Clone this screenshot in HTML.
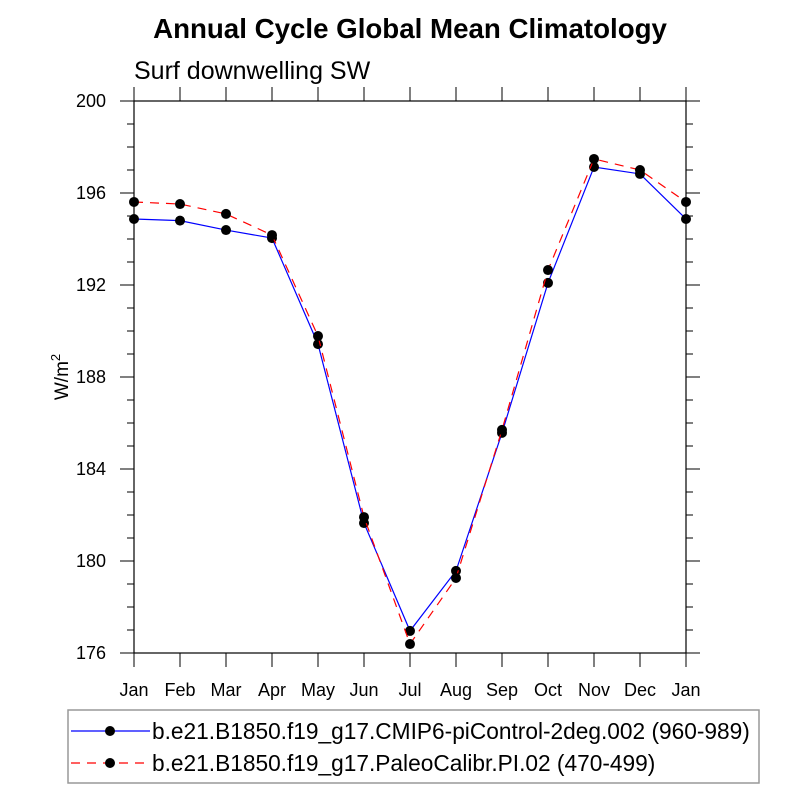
<!DOCTYPE html>
<html><head><meta charset="utf-8"><style>
body{margin:0;background:#fff}
svg{display:block;font-family:"Liberation Sans",Arial,sans-serif}
</style></head><body>
<svg id="chart" width="800" height="800" xmlns="http://www.w3.org/2000/svg">
<rect width="800" height="800" fill="#fff"/>
<text x="410" y="38" text-anchor="middle" font-size="27.7" font-weight="bold">Annual Cycle Global Mean Climatology</text>
<text x="134" y="79" font-size="25">Surf downwelling SW</text>
<g id="axes"></g>
<g id="series"></g>
<text transform="translate(68,377) rotate(-90)" text-anchor="middle" font-size="19">W/m<tspan dy="-8" font-size="13">2</tspan></text>
<g>
<rect x="68" y="710" width="691" height="73" fill="#fff" stroke="#999" stroke-width="1.5"/>
<g>
<line x1="71" y1="731" x2="150" y2="731" stroke="#0000ff" stroke-width="1.2"/>
<circle cx="110" cy="731" r="5" fill="#000"/>
<text x="152" y="739" font-size="22.7">b.e21.B1850.f19_g17.CMIP6-piControl-2deg.002 (960-989)</text>
</g>
<g>
<line x1="71" y1="763" x2="150" y2="763" stroke="#ff0000" stroke-width="1.2" stroke-dasharray="9,7"/>
<circle cx="110" cy="763" r="5" fill="#000"/>
<text x="152" y="771" font-size="22.7">b.e21.B1850.f19_g17.PaleoCalibr.PI.02 (470-499)</text>
</g>
</g>
</svg>
<script>
const months=["Jan","Feb","Mar","Apr","May","Jun","Jul","Aug","Sep","Oct","Nov","Dec","Jan"];
const cmip6Values=[194.87,194.8,194.39,194.04,189.43,181.65,176.96,179.57,185.57,192.09,197.13,196.83,194.87];
const paleoValues=[195.61,195.52,195.09,194.17,189.78,181.91,176.39,179.26,185.7,192.65,197.48,197.0,195.61];
const yTicks=[176,180,184,188,192,196,200];
const yMinorTicks=[177,178,179,181,182,183,185,186,187,189,190,191,193,194,195,197,198,199];

const NS="http://www.w3.org/2000/svg";
const L=134,R=686,T=101,B=653,YMIN=176,YMAX=200;
const xs=i=>L+(R-L)*i/(months.length-1);
const ys=v=>B-(v-YMIN)/(YMAX-YMIN)*(B-T);
function mk(tag,attrs,parent){const e=document.createElementNS(NS,tag);for(const k in attrs)e.setAttribute(k,attrs[k]);parent.appendChild(e);return e;}
const ax=document.getElementById('axes');
const frame=mk('rect',{x:L,y:T,width:R-L,height:B-T,fill:'none',stroke:'#000','stroke-width':1.2},ax);


months.forEach((m,i)=>{
  const x=xs(i);
  mk('line',{x1:x,y1:B,x2:x,y2:B+14,stroke:'#000','stroke-width':1},ax);
  mk('line',{x1:x,y1:T,x2:x,y2:T-14,stroke:'#000','stroke-width':1},ax);
  const t=mk('text',{x:x,y:B+43,'text-anchor':'middle','font-size':18},ax);
  t.textContent=m;
  
  
});
yTicks.forEach(v=>{
  const y=ys(v);
  mk('line',{x1:L-14,y1:y,x2:L,y2:y,stroke:'#000','stroke-width':1},ax);
  mk('line',{x1:R,y1:y,x2:R+14,y2:y,stroke:'#000','stroke-width':1},ax);
  const t=mk('text',{x:106,y:y+6,'text-anchor':'end','font-size':18},ax);
  t.textContent=v;
  
  
});
yMinorTicks.forEach(v=>{
  const y=ys(v);
  mk('line',{x1:L-7,y1:y,x2:L,y2:y,stroke:'#000','stroke-width':1},ax);
  mk('line',{x1:R,y1:y,x2:R+7,y2:y,stroke:'#000','stroke-width':1},ax);
});
const sg=document.getElementById('series');
function drawSeries(vals,color,dash,name){
  const g=mk('g',{},sg);
  
  
  const pts=vals.map((v,i)=>xs(i)+','+ys(v)).join(' ');
  const pl=mk('polyline',{points:pts,fill:'none',stroke:color,'stroke-width':1.2},g);
  if(dash)pl.setAttribute('stroke-dasharray',dash);
  
  
  vals.forEach((v,i)=>{
    const c=mk('circle',{cx:xs(i),cy:ys(v),r:5,fill:'#000'},g);
    
    
  });
}
drawSeries(cmip6Values,'#0000ff',null,'cmip6-series');
drawSeries(paleoValues,'#ff0000','9,7','paleo-series');
</script>
</body></html>
